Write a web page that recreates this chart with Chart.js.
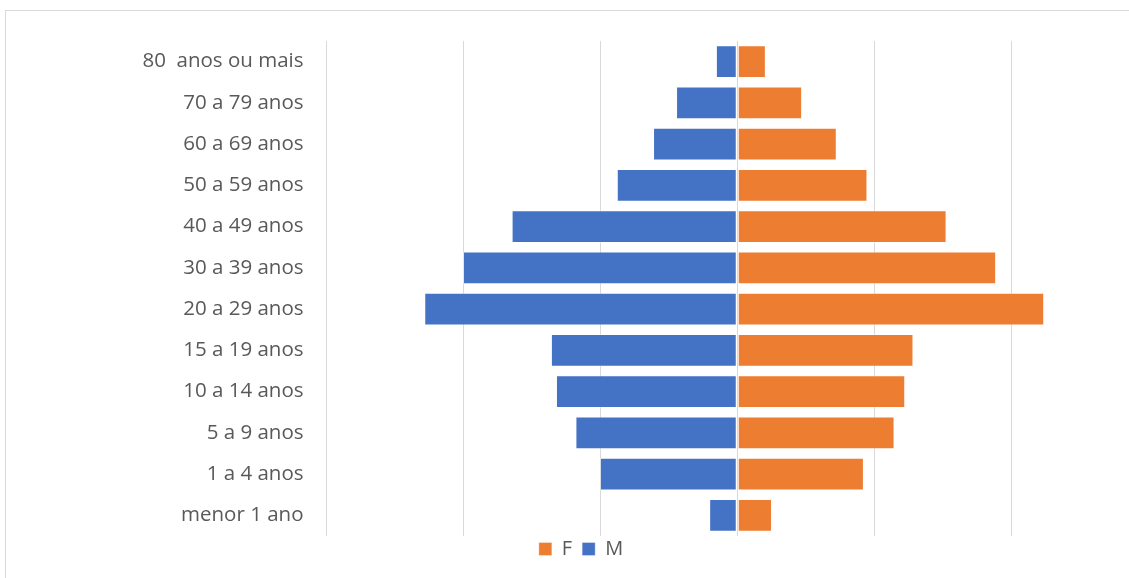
<!DOCTYPE html>
<html>
<head>
<meta charset="utf-8">
<script src="https://cdn.jsdelivr.net/npm/chart.js@4.4.0/dist/chart.umd.min.js"></script>
<style>
    html, body { margin: 0; padding: 0; background: #fff; overflow: hidden; }
    #wrap {
        position: absolute; left: 5px; top: 10px;
        width: 1200px; height: 620px;
        border-top: 1px solid #d9d9d9; border-left: 1px solid #d9d9d9;
    }
    #box { width: 1168px; height: 587px; }
</style>
</head>
<body>
<div id="wrap"><div id="box"><canvas id="myChart"></canvas></div></div>
<script>
// faixas etarias (de cima para baixo)
var faixas = ["80  anos ou mais", "70 a 79 anos", "60 a 69 anos", "50 a 59 anos",
    "40 a 49 anos", "30 a 39 anos", "20 a 29 anos", "15 a 19 anos",
    "10 a 14 anos", "5 a 9 anos", "1 a 4 anos", "menor 1 ano"];

var valoresF = [209, 474, 727, 951, 1529, 1891, 2242, 1287, 1227, 1149, 925, 254];
var valoresM = [156, 447, 615, 880, 1648, 2003, 2286, 1361, 1324, 1182, 1003, 205];

var eixoMin = -3000;
var eixoMax = 3000;
var eixoPasso = 1000;

// masculino vai para a esquerda
var negM = valoresM.map(function (v) { return -v; });

// linha do eixo central por cima das barras + legenda um pouco mais perto do grafico
var ajustes = {
    id: "ajustes",
    afterLayout: function (chart) {
        chart.legend.top -= 7;
        chart.legend.bottom -= 7;
    },
    afterDatasetsDraw: function (chart) {
        var x = Math.round(chart.scales.x.getPixelForValue(0)) + 0.5;
        var ctx = chart.ctx;
        ctx.save();
        ctx.strokeStyle = "#d9d9d9";
        ctx.lineWidth = 1;
        ctx.beginPath();
        ctx.moveTo(x, chart.chartArea.top);
        ctx.lineTo(x, chart.chartArea.bottom);
        ctx.stroke();
        ctx.restore();
    }
};

var ctx = document.getElementById("myChart");

var chart = new Chart(ctx, {
    type: "bar",
    data: {
        labels: faixas,
        datasets: [{
            label: "F",
            data: valoresF,
            backgroundColor: "#ed7d31",
            borderColor: "rgba(255,255,255,0.35)",
            borderWidth: 1,
            borderSkipped: false
        }, {
            label: "M",
            data: negM,
            backgroundColor: "#4472c4",
            borderColor: "rgba(255,255,255,0.35)",
            borderWidth: 1,
            borderSkipped: false
        }]
    },
    options: {
        indexAxis: "y",
        responsive: true,
        maintainAspectRatio: false,
        animation: false,
        datasets: { bar: { categoryPercentage: 1, barPercentage: 0.79 } },
        layout: { padding: { left: 8, right: 26, top: 30, bottom: 22 } },
        scales: {
            x: {
                stacked: true,
                min: eixoMin,
                max: eixoMax,
                ticks: { display: false, stepSize: eixoPasso },
                grid: { color: "#d9d9d9", lineWidth: 1, drawTicks: false },
                border: { display: false }
            },
            y: {
                stacked: true,
                grid: { display: false, drawTicks: false },
                border: { display: false },
                ticks: {
                    color: "#595959",
                    padding: 23,
                    font: { family: "Open Sans", size: 20.5 }
                },
                afterFit: function (scale) {
                    scale.width = 312.5;
                    scale.paddingTop = 0;
                    scale.paddingBottom = 0;
                }
            }
        },
        plugins: {
            legend: {
                position: "bottom",
                labels: {
                    color: "#595959",
                    boxWidth: 13,
                    boxHeight: 13,
                    padding: 10,
                    font: { family: "Open Sans", size: 20 }
                }
            },
            tooltip: { enabled: false }
        }
    },
    plugins: [ajustes]
});
</script>
</body>
</html>
